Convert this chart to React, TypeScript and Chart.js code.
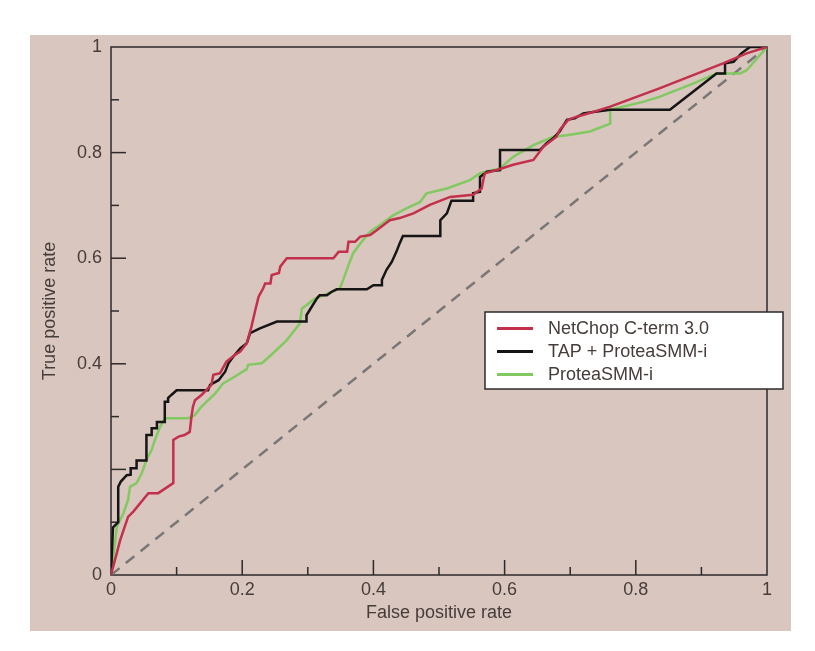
import { useEffect, useRef } from 'react';
import { Chart, registerables } from 'chart.js';

Chart.register(...registerables);

// ROC curves (false positive rate -> true positive rate)
const netchopFpr = [0, 0.014, 0.026, 0.034, 0.057, 0.072, 0.095, 0.095, 0.103, 0.112, 0.12, 0.123, 0.125, 0.128, 0.138, 0.153, 0.156, 0.166, 0.176, 0.189, 0.197, 0.207, 0.214, 0.22, 0.225, 0.232, 0.235, 0.243, 0.245, 0.256, 0.258, 0.268, 0.339, 0.347, 0.36, 0.362, 0.372, 0.38, 0.395, 0.405, 0.425, 0.44, 0.461, 0.486, 0.517, 0.552, 0.565, 0.568, 0.57, 0.588, 0.613, 0.644, 0.659, 0.679, 0.684, 0.697, 0.71, 0.735, 0.761, 0.837, 0.933, 0.969, 1];
const netchopTpr = [0, 0.066, 0.11, 0.12, 0.155, 0.155, 0.174, 0.256, 0.262, 0.265, 0.271, 0.303, 0.319, 0.331, 0.341, 0.36, 0.379, 0.382, 0.404, 0.417, 0.423, 0.439, 0.47, 0.502, 0.527, 0.543, 0.552, 0.552, 0.568, 0.572, 0.584, 0.6, 0.6, 0.612, 0.612, 0.631, 0.631, 0.641, 0.644, 0.653, 0.672, 0.676, 0.685, 0.701, 0.716, 0.72, 0.732, 0.751, 0.761, 0.767, 0.777, 0.786, 0.811, 0.83, 0.843, 0.862, 0.868, 0.877, 0.887, 0.922, 0.969, 0.988, 1];

const tapFpr = [0, 0.003, 0.011, 0.011, 0.015, 0.024, 0.03, 0.03, 0.039, 0.039, 0.054, 0.054, 0.062, 0.062, 0.07, 0.07, 0.082, 0.082, 0.087, 0.087, 0.092, 0.1, 0.148, 0.151, 0.164, 0.174, 0.179, 0.186, 0.197, 0.207, 0.212, 0.227, 0.253, 0.298, 0.298, 0.306, 0.314, 0.318, 0.329, 0.336, 0.344, 0.39, 0.4, 0.413, 0.413, 0.42, 0.428, 0.435, 0.44, 0.445, 0.502, 0.502, 0.512, 0.519, 0.552, 0.552, 0.5625, 0.5625, 0.573, 0.593, 0.593, 0.654, 0.664, 0.674, 0.684, 0.695, 0.707, 0.72, 0.735, 0.761, 0.852, 0.923, 0.936, 0.936, 0.949, 0.961, 0.974, 1];
const tapTpr = [0, 0.09, 0.1, 0.167, 0.177, 0.189, 0.19, 0.202, 0.202, 0.217, 0.217, 0.265, 0.265, 0.278, 0.278, 0.29, 0.29, 0.328, 0.328, 0.335, 0.341, 0.35, 0.35, 0.36, 0.369, 0.385, 0.401, 0.413, 0.429, 0.439, 0.458, 0.467, 0.48, 0.48, 0.492, 0.508, 0.524, 0.53, 0.53, 0.536, 0.541, 0.541, 0.549, 0.549, 0.559, 0.578, 0.593, 0.612, 0.628, 0.642, 0.642, 0.672, 0.685, 0.709, 0.709, 0.723, 0.726, 0.754, 0.764, 0.767, 0.805, 0.805, 0.818, 0.827, 0.84, 0.862, 0.865, 0.874, 0.877, 0.881, 0.881, 0.95, 0.95, 0.969, 0.972, 0.988, 1, 1];

const proteaFpr = [0, 0.009, 0.019, 0.026, 0.029, 0.039, 0.047, 0.054, 0.062, 0.067, 0.075, 0.082, 0.118, 0.128, 0.136, 0.143, 0.159, 0.171, 0.189, 0.207, 0.209, 0.23, 0.247, 0.268, 0.288, 0.291, 0.298, 0.308, 0.314, 0.349, 0.354, 0.362, 0.369, 0.38, 0.395, 0.41, 0.43, 0.451, 0.471, 0.481, 0.512, 0.547, 0.5625, 0.593, 0.613, 0.644, 0.674, 0.695, 0.73, 0.761, 0.761, 0.811, 0.837, 0.888, 0.923, 0.959, 0.969, 1];
const proteaTpr = [0, 0.092, 0.117, 0.142, 0.167, 0.174, 0.193, 0.218, 0.237, 0.256, 0.281, 0.297, 0.297, 0.303, 0.316, 0.325, 0.344, 0.363, 0.376, 0.39, 0.398, 0.401, 0.42, 0.445, 0.477, 0.505, 0.511, 0.521, 0.525, 0.543, 0.559, 0.587, 0.609, 0.628, 0.65, 0.663, 0.681, 0.695, 0.706, 0.723, 0.732, 0.748, 0.761, 0.77, 0.792, 0.814, 0.83, 0.833, 0.84, 0.855, 0.881, 0.896, 0.906, 0.931, 0.95, 0.95, 0.956, 1];

const chanceLine = [0, 1];

const seriesLabels = ['NetChop C-term 3.0', 'TAP + ProteaSMM-i', 'ProteaSMM-i'];
const seriesColors = ['#c2304b', '#151515', '#82c962'];
const hiddenYTicks = [0.2];
const minorTicks = [0.1, 0.3, 0.5, 0.7, 0.9];
const majorTicks = [0.2, 0.4, 0.6, 0.8];

const FONT = 'Liberation Sans, Arial, sans-serif';
const TEXT = '#463c3a';

const toPoints = (xs: number[], ys: number[]) => xs.map((x, i) => ({ x, y: ys[i] }));
const fmt = (v: number) => String(Number(v.toFixed(1)));

const framePlugin = {
  id: 'frame',
  beforeDatasetsDraw(chart: any) {
    const { ctx, chartArea: a, scales } = chart;
    ctx.save();
    ctx.strokeStyle = '#2e2a2a';
    ctx.lineWidth = 1.5;
    ctx.strokeRect(a.left, a.top, a.right - a.left, a.bottom - a.top);
    const tick = (v: number, len: number) => {
      const px = scales.x.getPixelForValue(v);
      ctx.beginPath();
      ctx.moveTo(px, a.bottom);
      ctx.lineTo(px, a.bottom - len);
      ctx.stroke();
      const py = scales.y.getPixelForValue(v);
      ctx.beginPath();
      ctx.moveTo(a.left, py);
      ctx.lineTo(a.left + len, py);
      ctx.stroke();
    };
    minorTicks.forEach((v) => tick(v, 8));
    majorTicks.forEach((v) => tick(v, 15));
    ctx.restore();
  },
  afterDraw(chart: any) {
    // legend box, sits over the right frame like in the original
    const { ctx, chartArea: a } = chart;
    const left = a.right - 282;
    const top = a.top + 265;
    ctx.save();
    ctx.fillStyle = '#fff';
    ctx.fillRect(left, top, 298, 77);
    ctx.strokeStyle = '#2e2a2a';
    ctx.lineWidth = 1.5;
    ctx.strokeRect(left, top, 298, 77);
    ctx.font = `18px ${FONT}`;
    ctx.textBaseline = 'middle';
    seriesLabels.forEach((label, i) => {
      const y = top + 16.5 + i * 23;
      ctx.strokeStyle = seriesColors[i];
      ctx.lineWidth = 3;
      ctx.beginPath();
      ctx.moveTo(left + 12, y);
      ctx.lineTo(left + 48, y);
      ctx.stroke();
      ctx.fillStyle = TEXT;
      ctx.fillText(label, left + 63, y + 1);
    });
    ctx.restore();
  },
};

export default function App() {
  const canvasRef = useRef<HTMLCanvasElement>(null);

  useEffect(() => {
    if (!canvasRef.current) return;

    const curve = (i: number, xs: number[], ys: number[]) => ({
      label: seriesLabels[i],
      data: toPoints(xs, ys),
      borderColor: seriesColors[i],
      borderWidth: 2.5,
      pointRadius: 0,
      tension: 0,
      fill: false,
    });

    const chart = new Chart(canvasRef.current, {
      type: 'line',
      data: {
        datasets: [
          curve(0, netchopFpr, netchopTpr),
          curve(1, tapFpr, tapTpr),
          curve(2, proteaFpr, proteaTpr),
          {
            label: 'chance',
            data: toPoints(chanceLine, chanceLine),
            borderColor: '#7a7676',
            borderWidth: 2.5,
            borderDash: [11, 8],
            pointRadius: 0,
            fill: false,
          },
        ],
      },
      options: {
        animation: false,
        responsive: true,
        maintainAspectRatio: false,
        layout: { padding: { top: 12, right: 24, left: 0, bottom: 0 } },
        plugins: { legend: { display: false }, tooltip: { enabled: false } },
        scales: {
          x: {
            type: 'linear',
            min: 0,
            max: 1,
            grid: { display: false, drawTicks: false },
            border: { display: false },
            ticks: {
              stepSize: 0.2,
              padding: 4,
              color: TEXT,
              font: { family: FONT, size: 18 },
              maxRotation: 0,
              callback: (v: any) => fmt(Number(v)),
            },
            title: {
              display: true,
              text: 'False positive rate',
              color: TEXT,
              font: { family: FONT, size: 18 },
              padding: { top: 0, bottom: 7 },
            },
            afterFit: (s: any) => {
              s.height = 56;
              s.paddingLeft = 6;
              s.paddingRight = 6;
            },
          },
          y: {
            type: 'linear',
            min: 0,
            max: 1,
            grid: { display: false, drawTicks: false },
            border: { display: false },
            ticks: {
              stepSize: 0.2,
              padding: 9,
              color: TEXT,
              font: { family: FONT, size: 18 },
              callback: (v: any) => (hiddenYTicks.includes(Number(fmt(Number(v)))) ? '' : fmt(Number(v))),
            },
            title: {
              display: true,
              text: 'True positive rate',
              color: TEXT,
              font: { family: FONT, size: 18 },
              padding: { top: 9, bottom: 0 },
            },
            afterFit: (s: any) => {
              s.width = 81;
              s.paddingTop = 10;
              s.paddingBottom = 10;
            },
          },
        },
      },
      plugins: [framePlugin],
    });

    return () => chart.destroy();
  }, []);

  return (
    <div style={{ position: 'absolute', left: 0, top: 0, width: 815, height: 651, background: '#fff' }}>
      <div
        style={{
          position: 'absolute',
          left: 30,
          top: 35,
          width: 761,
          height: 596,
          background: '#d9c6bf',
        }}
      >
        <canvas ref={canvasRef} />
      </div>
    </div>
  );
}
